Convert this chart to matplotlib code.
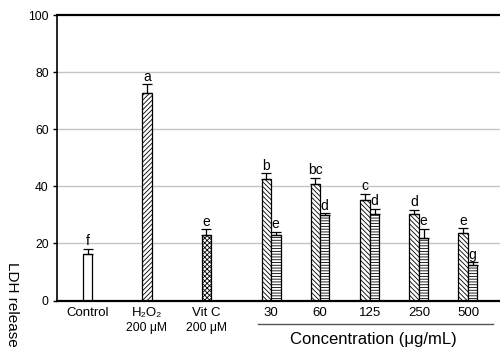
import matplotlib
matplotlib.use("Agg")
import matplotlib.pyplot as plt
import matplotlib.transforms as mtransforms

plt.rcParams['font.family'] = ['Liberation Sans', 'DejaVu Sans']
plt.rcParams['hatch.linewidth'] = 0.6

# ---------------- data ----------------
categories = ['Control', 'H\u2082O\u2082', 'Vit C', '30', '60', '125', '250', '500']
sublabels = ['', '200 \u03bcM', '200 \u03bcM', '', '', '', '', '']

single_values = [16.2, 72.6, 23.1]
single_errors = [2.0, 3.2, 1.8]
single_letters = ['f', 'a', 'e']

groupA_values = [42.5, 40.7, 35.1, 30.4, 23.7]
groupA_errors = [2.1, 2.2, 2.3, 1.4, 1.6]
groupA_letters = ['b', 'bc', 'c', 'd', 'e']

groupB_values = [23.1, 30.1, 30.4, 21.8, 12.6]
groupB_errors = [0.9, 0.5, 1.8, 3.4, 0.8]
groupB_letters = ['e', 'd', 'd', 'e', 'g']

yticks = [0, 20, 40, 60, 80, 100]
ylabel = 'LDH release'
xlabel = 'Concentration (\u03bcg/mL)'

# ---------------- layout ----------------
xpos = [30.5, 90, 149.5, 214, 263, 313, 362, 411]
bw = 9.5
single_hatches = ['', '///////', 'xxxxxxx']

fig = plt.figure(figsize=(5, 3.48), dpi=100)
ax = fig.add_axes([57/500, 1 - 300.5/348, 443/500, 285.5/348])
ax.set_xlim(0, 443)
ax.set_ylim(0, 100)

for y in yticks[1:-1]:
    ax.axhline(y, color='#c4c4c4', lw=1.0, zorder=0)

def draw(xs, vals, errs, letters, hatch):
    ax.bar(xs, vals, width=bw, color='white', edgecolor='black', linewidth=0.9,
           hatch=hatch, zorder=2)
    ax.errorbar(xs, vals, yerr=[[0]*len(vals), errs], fmt='none', ecolor='black',
                elinewidth=0.9, capsize=3.4, capthick=0.9, zorder=3)
    for x, v, e, l in zip(xs, vals, errs, letters):
        ax.text(x, v + e + 0.2, l, ha='center', va='bottom', fontsize=10)

for i in range(3):
    draw([xpos[i]], [single_values[i]], [single_errors[i]], [single_letters[i]], single_hatches[i])

gx = xpos[3:]
draw([x - bw/2 for x in gx], groupA_values, groupA_errors, groupA_letters, '\\\\\\\\\\\\\\')
draw([x + bw/2 for x in gx], groupB_values, groupB_errors, groupB_letters, '------')

# spines
for s in ['left', 'bottom', 'top']:
    ax.spines[s].set_color('black')
ax.spines['left'].set_linewidth(1.2)
ax.spines['bottom'].set_linewidth(1.6)
ax.spines['top'].set_linewidth(1.6)
ax.spines['right'].set_visible(False)

ax.set_yticks(yticks)
ax.set_yticklabels([str(t) for t in yticks], fontsize=8.7)
ax.tick_params(axis='y', length=3, width=1, pad=3)
ax.set_xticks(xpos)
ax.set_xticklabels(categories, fontsize=9.5)
ax.tick_params(axis='x', length=0, pad=5)

trans = mtransforms.blended_transform_factory(ax.transData, ax.transAxes)
for x, s in zip(xpos, sublabels):
    if s:
        ax.text(x, -0.095, s, transform=trans, ha='center', va='center', fontsize=8.7)

ax.plot([201, 436], [-0.082, -0.082], transform=trans, color='#555555', lw=1.0,
        clip_on=False)
ax.text(316, -0.138, xlabel, transform=trans, ha='center', va='center', fontsize=12)

fig.text(12/500, 1 - 262/348, ylabel, rotation=270, ha='center', va='top', fontsize=11)

fig.savefig('out.png', dpi=100)
